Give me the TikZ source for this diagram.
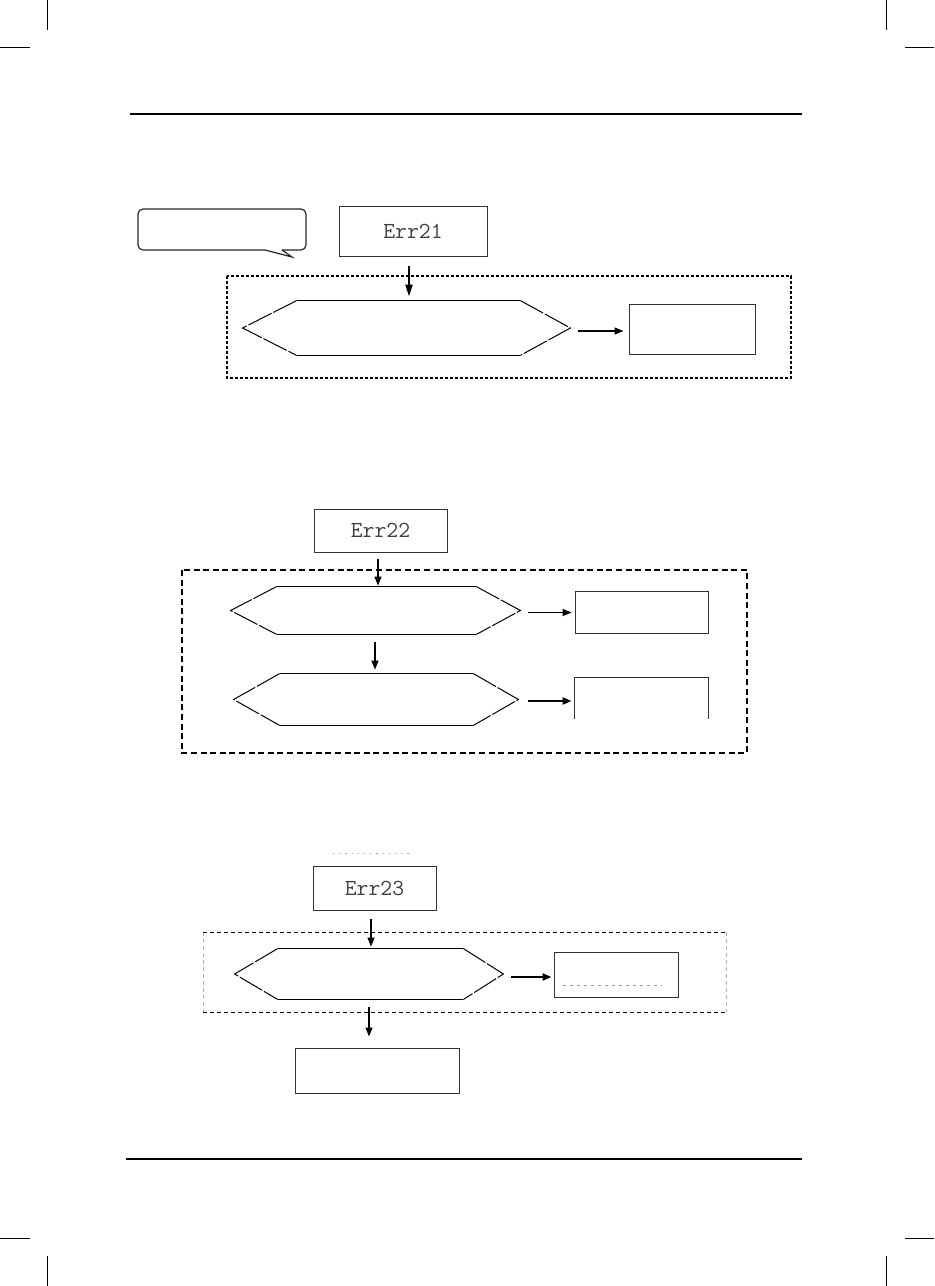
\documentclass[tikz,border=0pt]{standalone}
\usetikzlibrary{arrows.meta,calc}
\newcommand\hexdraw[3]{%
  \draw[hexsolid] ($(#1.north west)+(#2,0)$) -- ($(#1.north east)+(-#3,0)$);
  \draw[hexsolid] ($(#1.south west)+(#2,0)$) -- ($(#1.south east)+(-#3,0)$);
  \draw[hexslant] ($(#1.north west)+(#2,0)$) -- (#1.west) -- ($(#1.south west)+(#2,0)$);
  \draw[hexslant] ($(#1.north east)+(-#3,0)$) -- (#1.east) -- ($(#1.south east)+(-#3,0)$);}
\begin{document}
\begin{tikzpicture}[x=0.5pt,y=-0.5pt,
  box/.style={draw=black!80, line width=0.5pt, inner sep=0pt,
    font=\fontsize{11.5}{13}\selectfont\ttfamily, text=black!75},
  openbox/.style={inner sep=0pt},
  hexarea/.style={inner sep=0pt},
  hexsolid/.style={line width=0.55pt, black},
  hexslant/.style={line width=0.5pt, black, dash pattern=on 13pt off 1pt},
  arr/.style={-{Triangle[length=4.5pt,width=3.5pt]}, line width=0.7pt},
  arrthick/.style={arr, line width=1.1pt},
  framedot/.style={line width=1pt, dash pattern=on 1.5pt off 1pt},
  framedash/.style={line width=0.8pt, dash pattern=on 3pt off 1.8pt},
  framethin/.style={line width=0.5pt, dash pattern=on 2pt off 1.5pt},
  framegray/.style={line width=0.5pt, black!30, dash pattern=on 2pt off 1.5pt},
  rule/.style={line width=0.75pt},
  crop/.style={line width=0.5pt}
]
\useasboundingbox (0,0) rectangle (934,1286);
% crop marks and page rules
\draw[crop] (47.5,0) -- (47.5,30);  \draw[crop] (0,47) -- (30,47);
\draw[crop] (886,0) -- (886,30);    \draw[crop] (905,47) -- (934,47);
\draw[crop] (0,1238) -- (30,1238);  \draw[crop] (47.5,1256) -- (47.5,1286);
\draw[crop] (905,1238) -- (934,1238); \draw[crop] (886,1256) -- (886,1286);
\draw[rule] (130,114) -- (802,114);
\draw[rule] (126,1159) -- (802,1159);

% ---------- Section 1 ----------
\node[openbox, minimum width=84pt, minimum height=20.5pt] (call) at (222,229.5) {};
\draw[line width=0.6pt, black!85, rounded corners=2.5pt]
  (265,250) -- (138,250) -- (138,209) -- (306,209) -- (306,250) -- (282,250);
\draw[line width=0.6pt, black!85] (265,250) -- (292,257) -- (282,250);

\node[box, minimum width=74pt, minimum height=25pt] (e21) at (413,231) {Err21};
\draw[framedot] (227,276) rectangle (791,378);
\node[hexarea, minimum width=163.5pt, minimum height=27pt] (h1) at (406.5,328) {};
\hexdraw{h1}{54}{50}
\node[box, minimum width=63pt, minimum height=25pt] (b1) at (692,329) {};
\draw[arr, line width=1pt, -{Triangle[length=6pt,width=3.5pt]}, shorten <=4.5pt, shorten >=2pt]
  ([xshift=-2pt]e21.south) -- ([xshift=-2pt]e21.south |- h1.north);
\draw[arr, shorten <=4pt, shorten >=2.5pt] ([yshift=-1.5pt]h1.east) -- ([yshift=-1.5pt]h1.east -| b1.west);

% ---------- Section 2 ----------
\node[box, minimum width=66.5pt, minimum height=21.5pt] (e22) at (380.5,530.5) {Err22};
\draw[framedash] (182,570) rectangle (747,753);
\node[hexarea, minimum width=144.5pt, minimum height=23.5pt] (h2a) at (375.5,610.5) {};
\hexdraw{h2a}{46}{44}
\node[hexarea, minimum width=142pt, minimum height=25.5pt] (h2b) at (376,699.5) {};
\hexdraw{h2b}{46}{45}
\node[box, minimum width=66.5pt, minimum height=21pt] (b2a) at (641.5,612) {};
\node[openbox, minimum width=66.5pt, minimum height=20.5pt] (b2b) at (641.5,698.5) {};
\draw[line width=0.5pt, black!80] (b2b.south west) -- (b2b.north west) -- (b2b.north east) -- (b2b.south east);
\draw[arr, shorten <=3pt, shorten >=0.5pt] ([xshift=-1.25pt]e22.south) -- ([xshift=-1.25pt]e22.south |- h2a.north);
\draw[arr, line width=0.6pt, shorten <=4pt, shorten >=2pt] ([xshift=-0.25pt]h2a.south) -- ([xshift=-0.25pt]h2a.south |- h2b.north);
\draw[arr, shorten <=4pt, shorten >=1.5pt] ([yshift=-1pt]h2a.east) -- ([yshift=-1pt]h2a.east -| b2a.west);
\draw[arrthick, shorten <=5pt, shorten >=1.5pt] ([yshift=-0.75pt]h2b.east) -- ([yshift=-0.75pt]h2b.east -| b2b.west);

% ---------- Section 3 ----------
\draw[line width=0.4pt, black!35, dash pattern=on 0.6pt off 2.5pt] (333,853) -- (413,853);
\node[box, minimum width=61.5pt, minimum height=22pt] (e23) at (374.5,888) {Err23};
\draw[framegray] (203,932) -- (203,1012);
\draw[framegray] (726,932) -- (726,1012);
\draw[framethin] (203,932) -- (726,932);
\draw[framethin] (203,1012) -- (726,1012);
\node[hexarea, minimum width=134pt, minimum height=25pt] (h3) at (369,974) {};
\hexdraw{h3}{43}{40}
\node[box, minimum width=62pt, minimum height=22.5pt] (b3r) at (616,974.5) {};
\draw[line width=0.4pt, black!40, dash pattern=on 1.5pt off 2pt] (563,985) -- (662,985);
\node[box, minimum width=82pt, minimum height=22.5pt] (b3d) at (377,1070.5) {};
\draw[arr, shorten <=4pt, shorten >=1pt] ([xshift=-1.75pt]e23.south) -- ([xshift=-1.75pt]e23.south |- h3.north);
\draw[arrthick, line width=1.3pt, shorten <=4pt, shorten >=1pt] ([yshift=-1.5pt]h3.east) -- ([yshift=-1.5pt]h3.east -| b3r.west);
\draw[arr, shorten <=4pt, shorten >=5.5pt] (h3.south) -- (h3.south |- b3d.north);
\end{tikzpicture}
\end{document}
